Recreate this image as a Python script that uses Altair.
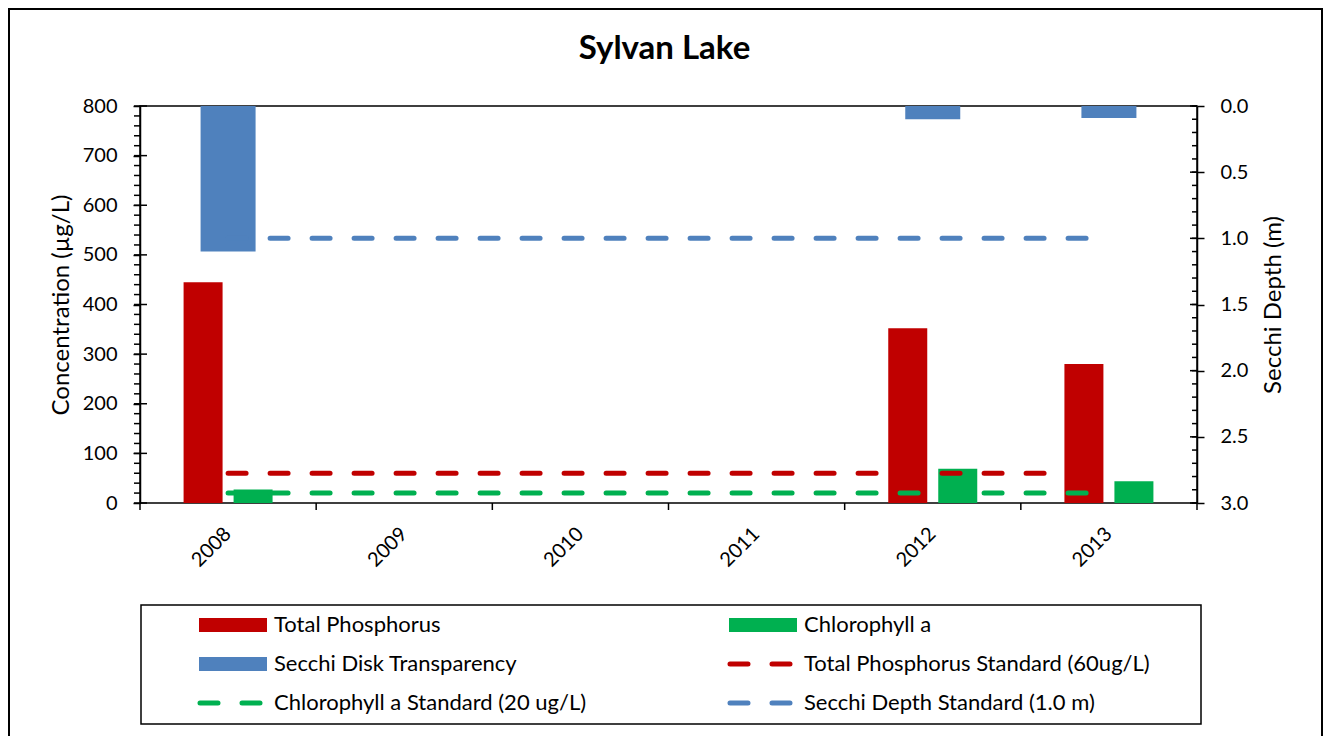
import altair as alt
import pandas as pd

# ---------------- data ----------------
years = ["2008", "2009", "2010", "2011", "2012", "2013"]
total_phosphorus = [445, None, None, None, 352, 280]
chlorophyll_a = [27, None, None, None, 69, 44]
secchi_depth = [1.1, None, None, None, 0.1, 0.09]
tp_standard = [60, 60, 60, 60, 60, 60]
chl_standard = [20, 20, 20, 20, 20, 20]
secchi_standard = [1.0, 1.0, 1.0, 1.0, 1.0, 1.0]

conc_ticks = [0, 100, 200, 300, 400, 500, 600, 700, 800]
conc_minor = [v * 20 for v in range(41)]
depth_ticks = [0.0, 0.5, 1.0, 1.5, 2.0, 2.5, 3.0]
depth_minor = [round(v * 0.1, 1) for v in range(31)]

legend_labels = ["Total Phosphorus", "Chlorophyll a", "Secchi Disk Transparency",
                 "Total Phosphorus Standard (60ug/L)", "Chlorophyll a Standard (20 ug/L)",
                 "Secchi Depth Standard (1.0 m)"]
legend_kinds = ["bar", "bar", "bar", "line", "line", "line"]
legend_cols = [0, 1, 0, 1, 0, 1]
legend_rows = [0, 0, 1, 1, 2, 2]

RED = "#C00000"
GREEN = "#00B050"
BLUE = "#4F81BD"
legend_colors = [RED, GREEN, BLUE, RED, GREEN, BLUE]

FONT = "Lato"
W, H = 1057, 397
HALF_STEP = W / len(years) / 2

df = pd.DataFrame({
    "year": years,
    "tp": total_phosphorus,
    "chl": chlorophyll_a,
    "secchi": secchi_depth,
    "tp_std": tp_standard,
    "chl_std": chl_standard,
    "secchi_std": secchi_standard,
})

xscale = alt.Scale(domain=years, paddingInner=0, paddingOuter=0)
conc_scale = alt.Scale(domain=[0, 800], nice=False)
depth_scale = alt.Scale(domain=[0, 3], reverse=True, nice=False)
X = alt.X("year:N", scale=xscale, axis=None)

left_axis = alt.Axis(orient="left", values=conc_ticks, title="Concentration (µg/L)",
                     titleFontSize=24, titleFontWeight="normal", titleFont=FONT, titleColor="black",
                     titleAngle=270, titleX=-79, titleY=H / 2, titleBaseline="middle",
                     titleAlign="center",
                     labelFontSize=20, labelFont=FONT, labelColor="black", labelPadding=16,
                     tickSize=7, tickWidth=1.5, tickColor="black", domainColor="black",
                     domainWidth=1.5, grid=False)

right_axis = alt.Axis(orient="right", values=depth_ticks, format=".1f", title="Secchi Depth (m)",
                      titleAngle=270, titleX=76, titleY=H / 2, titleBaseline="middle",
                      titleAlign="center",
                      titleFontSize=24, titleFontWeight="normal", titleFont=FONT,
                      titleColor="black", labelFontSize=20, labelFont=FONT, labelColor="black",
                      labelPadding=16, tickSize=7, tickWidth=1.5, tickColor="black",
                      domainColor="black", domainWidth=1.5, grid=False)

base = alt.Chart(df)

tp_bars = base.mark_bar(width=39, xOffset=-25, color=RED).encode(
    x=X, y=alt.Y("tp:Q", scale=conc_scale, axis=left_axis))
chl_bars = base.mark_bar(width=39, xOffset=25, color=GREEN).encode(
    x=X, y=alt.Y("chl:Q", scale=conc_scale, axis=None))
secchi_bars = base.mark_bar(width=55, color=BLUE).encode(
    x=X, y=alt.Y("secchi:Q", scale=depth_scale, axis=right_axis))


def std_line(field, color, scale):
    return base.mark_line(color=color, strokeWidth=5, strokeDash=[18, 24], strokeCap="round").encode(
        x=X, y=alt.Y(f"{field}:Q", scale=scale, axis=None))


tp_line = std_line("tp_std", RED, conc_scale)
chl_line = std_line("chl_std", GREEN, conc_scale)
secchi_line = std_line("secchi_std", BLUE, depth_scale)

# x-axis: category labels and boundary ticks
x_labels = base.mark_text(angle=315, align="right", baseline="middle", fontSize=20,
                          font=FONT, color="black").encode(
    x=X, y=alt.value(H + 28), text="year:N")
x_ticks = base.mark_rule(color="black", strokeWidth=1.5, xOffset=-HALF_STEP).encode(
    x=X, y=alt.value(H), y2=alt.value(H + 7))
dummy = alt.Data(values=[{}])
x_tick_end = alt.Chart(dummy).mark_rule(color="black", strokeWidth=1.5).encode(
    x=alt.value(W), y=alt.value(H), y2=alt.value(H + 7))


def tick_rules(values, scale, x0, x1):
    return alt.Chart(pd.DataFrame({"v": values})).mark_rule(color="black", strokeWidth=1.5).encode(
        y=alt.Y("v:Q", scale=scale, axis=None),
        x=alt.value(x0), x2=alt.value(x1),
    )


left_minor = tick_rules(conc_minor, conc_scale, -6, 0)
left_major_in = tick_rules(conc_ticks, conc_scale, 0, 7)
right_minor = tick_rules(depth_minor, depth_scale, W - 5, W)
right_major_in = tick_rules(depth_ticks, depth_scale, W - 7, W)

title = alt.Chart(dummy).mark_text(text="Sylvan Lake", font=FONT, fontSize=33, fontWeight="bold",
                                   align="center", baseline="alphabetic", color="black").encode(
    x=alt.value(524.5), y=alt.value(-47))

frame = alt.Chart(dummy).mark_rect(fillOpacity=0, stroke="black", strokeWidth=2).encode(
    x=alt.value(-131), x2=alt.value(1182), y=alt.value(-97), y2=alt.value(680))

legend_box = alt.Chart(dummy).mark_rect(fillOpacity=0, stroke="black", strokeWidth=1.5).encode(
    x=alt.value(1), x2=alt.value(1061), y=alt.value(499), y2=alt.value(618))

leg_df = pd.DataFrame({"label": legend_labels, "kind": legend_kinds, "col": legend_cols,
                       "row": legend_rows, "color": legend_colors})
leg = alt.Chart(leg_df).transform_calculate(
    sx="59 + datum.col * 530", sy="519 + datum.row * 39"
).transform_calculate(
    sx2="datum.sx + 68", sy1="datum.sy - 7", sy2="datum.sy + 7",
    lx1="datum.sx + 1", lx2="datum.sx + 62", tx="datum.sx + 75",
)

leg_rects = leg.transform_filter(alt.datum.kind == "bar").mark_rect().encode(
    x=alt.X("sx:Q", scale=None, axis=None), x2="sx2:Q",
    y=alt.Y("sy1:Q", scale=None, axis=None), y2="sy2:Q",
    color=alt.Color("color:N", scale=None),
)
leg_lines = leg.transform_filter(alt.datum.kind == "line").mark_rule(
    strokeWidth=5, strokeDash=[18, 24], strokeCap="round").encode(
    x=alt.X("lx1:Q", scale=None, axis=None), x2="lx2:Q",
    y=alt.Y("sy:Q", scale=None, axis=None),
    color=alt.Color("color:N", scale=None),
)
leg_text = leg.mark_text(align="left", baseline="middle", fontSize=22, font=FONT, color="black").encode(
    x=alt.X("tx:Q", scale=None, axis=None),
    y=alt.Y("sy:Q", scale=None, axis=None),
    text="label:N",
)

chart = alt.layer(
    tp_bars, chl_bars, secchi_bars,
    tp_line, chl_line, secchi_line,
    x_labels, x_ticks, x_tick_end,
    left_minor, left_major_in, right_minor, right_major_in,
    title, frame, legend_box, leg_rects, leg_lines, leg_text,
).resolve_scale(y="independent").properties(
    width=W, height=H,
    padding={"left": 132, "top": 98, "right": 126, "bottom": 233},
    autosize=alt.AutoSizeParams(type="none"),
    background="white",
).configure_view(stroke="black", strokeWidth=1.5)

chart.save("out.html", embed_options={"renderer": "svg", "actions": False})
